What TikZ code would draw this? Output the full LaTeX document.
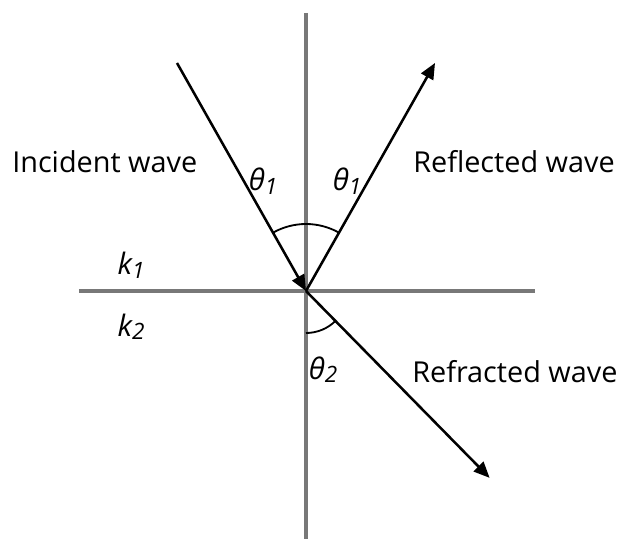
\documentclass[tikz,border=0pt]{standalone}
\usepackage{fontspec}
\setmainfont{Open Sans}
\usetikzlibrary{arrows.meta}
\definecolor{axisgray}{RGB}{120,120,120}
\tikzstyle{axis}      = [draw=axisgray, line width=2.8pt]
\tikzstyle{ray}       = [line width=1.8pt, -{Triangle[length=0.4cm,width=0.34cm]}]
\tikzstyle{anglearc}  = [line width=1.3pt]
\tikzstyle{wavelabel} = [font=\fontsize{20.5}{24}\selectfont, inner sep=0pt, anchor=base west]
\tikzstyle{symlabel}  = [font=\fontsize{21}{24}\selectfont\itshape, inner sep=0pt, anchor=base]
\newcommand{\symsub}[2]{#1\raisebox{-0.25ex}{\fontsize{16}{18}\selectfont #2}}

\begin{document}
\begin{tikzpicture}
  \useasboundingbox (-7.65,-6.175) rectangle (7.825,7.275);
  % interface and normal
  \coordinate (O) at (0,0);
  \coordinate (top) at (0,6.95);
  \coordinate (bottom) at (0,-6.2);
  \coordinate (left) at (-5.675,0);
  \coordinate (right) at (5.725,0);
  \draw[axis] (top) -- (bottom);
  \draw[axis] (left) -- (right);
  % rays
  \coordinate (inc) at (119.5:6.55);
  \coordinate (refl) at (60.5:6.55);
  \coordinate (refr) at (-45.5:6.55);
  \draw[ray] (inc) -- (O);
  \draw[ray] (O) -- (refl);
  \draw[ray] (O) -- (refr);
  % angles
  \draw[anglearc] (60.5:1.675) arc[start angle=60.5, end angle=119.5, radius=1.675];
  \draw[anglearc] (-90:1.05) arc[start angle=-90, end angle=-45.5, radius=1.05];
  % labels
  \node (incl) [wavelabel] at (-7.35,2.95) {Incident wave};
  \node (refll) [wavelabel] at (2.675,2.95) {Reflected wave};
  \node (refrl) [wavelabel] at (2.65,-2.275) {Refracted wave};
  \node (th1a) [symlabel] at (-1.075,2.5) {\symsub{θ}{1}};
  \node (th1b) [symlabel] at (1.025,2.5) {\symsub{θ}{1}};
  \node (th2) [symlabel] at (0.425,-2.2) {\symsub{θ}{2}};
  \node (k1) [symlabel] at (-4.375,0.42) {\symsub{k}{1}};
  \node (k2) [symlabel] at (-4.375,-1.125) {\symsub{k}{2}};
\end{tikzpicture}
\end{document}
